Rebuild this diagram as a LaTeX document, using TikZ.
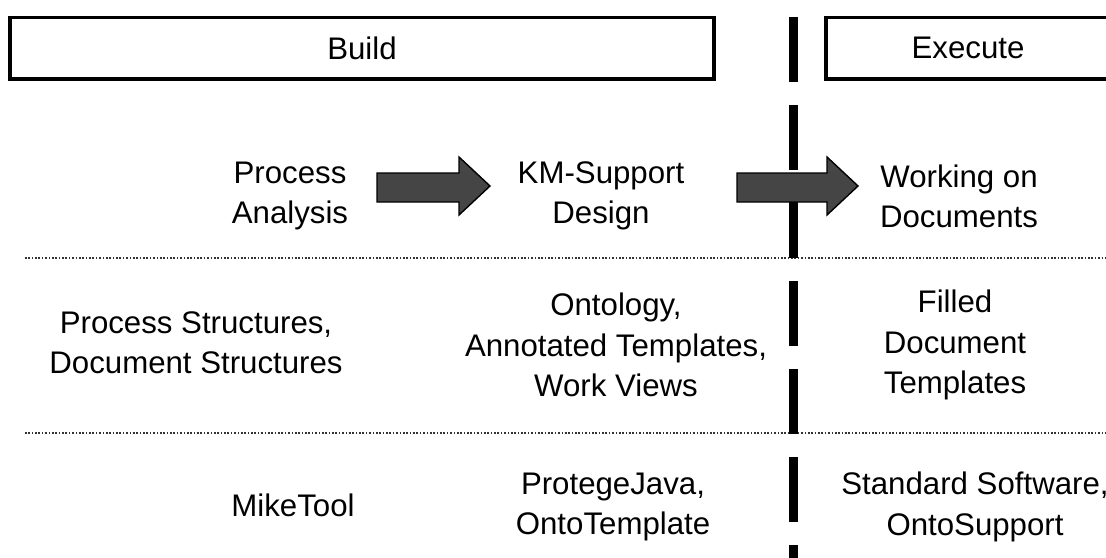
\documentclass[tikz,border=0pt]{standalone}
\usepackage{fontspec}
\setmainfont{Liberation Sans}

\begin{document}
\begin{tikzpicture}[x=0.025cm, y=-0.025cm,
    lbl/.style={font=\fontsize{22.2}{28.6}\selectfont, align=center, inner sep=0pt},
    phase/.style={draw, line width=2.8pt},
    rowline/.style={black!80, line width=1.1pt, dash pattern=on 1.1pt off 1.3pt},
    blockarrow/.style={fill=black!73, draw=black, line width=1pt, line join=miter}]
  \useasboundingbox (0,0) rectangle (1106,558);
  % phase headers
  \draw[phase] (10,17.5) rectangle (714,79);
  \draw[phase] (826,17.5) rectangle (1114,79);
  \node[lbl] (build) at (362,48) {Build};
  \node[lbl] (execute) at (968,48) {Execute};
  % row separators
  \foreach \y in {258,433}
    \draw[rowline] (25,\y) -- (1106,\y);
  % border between build and execute
  \draw[line width=6.4pt, dash pattern=on 1.625cm off 0.575cm] (793.5,17) -- (793.5,570);
  % block arrows
  \foreach \xa/\xb in {377/490, 737/858}
    \draw[blockarrow] (\xa,173) -- (\xb-31,173) -- (\xb-31,157) -- (\xb,186)
      -- (\xb-31,215) -- (\xb-31,202) -- (\xa,202) -- cycle;
  % row 1: activities
  \node[lbl] (procana) at (290,196) {Process\\Analysis};
  \node[lbl] (kmdesign) at (601,196) {KM-Support\\Design};
  \node[lbl] (workdocs) at (959,196) {Working on\\Documents};
  % row 2: results
  \node[lbl] (procstruct) at (196,343) {Process Structures,\\Document Structures};
  \node[lbl] (ontology) at (616,345) {Ontology,\\Annotated Templates,\\Work Views};
  \node[lbl] (filled) at (955,345) {Filled\\Document\\Templates};
  % row 3: tools
  \node[lbl] (miketool) at (293,505) {MikeTool};
  \node[lbl] (protege) at (613,507) {ProtegeJava,\\OntoTemplate};
  \node[lbl] (stdsoft) at (975,507) {Standard Software,\\OntoSupport};
\end{tikzpicture}
\end{document}
